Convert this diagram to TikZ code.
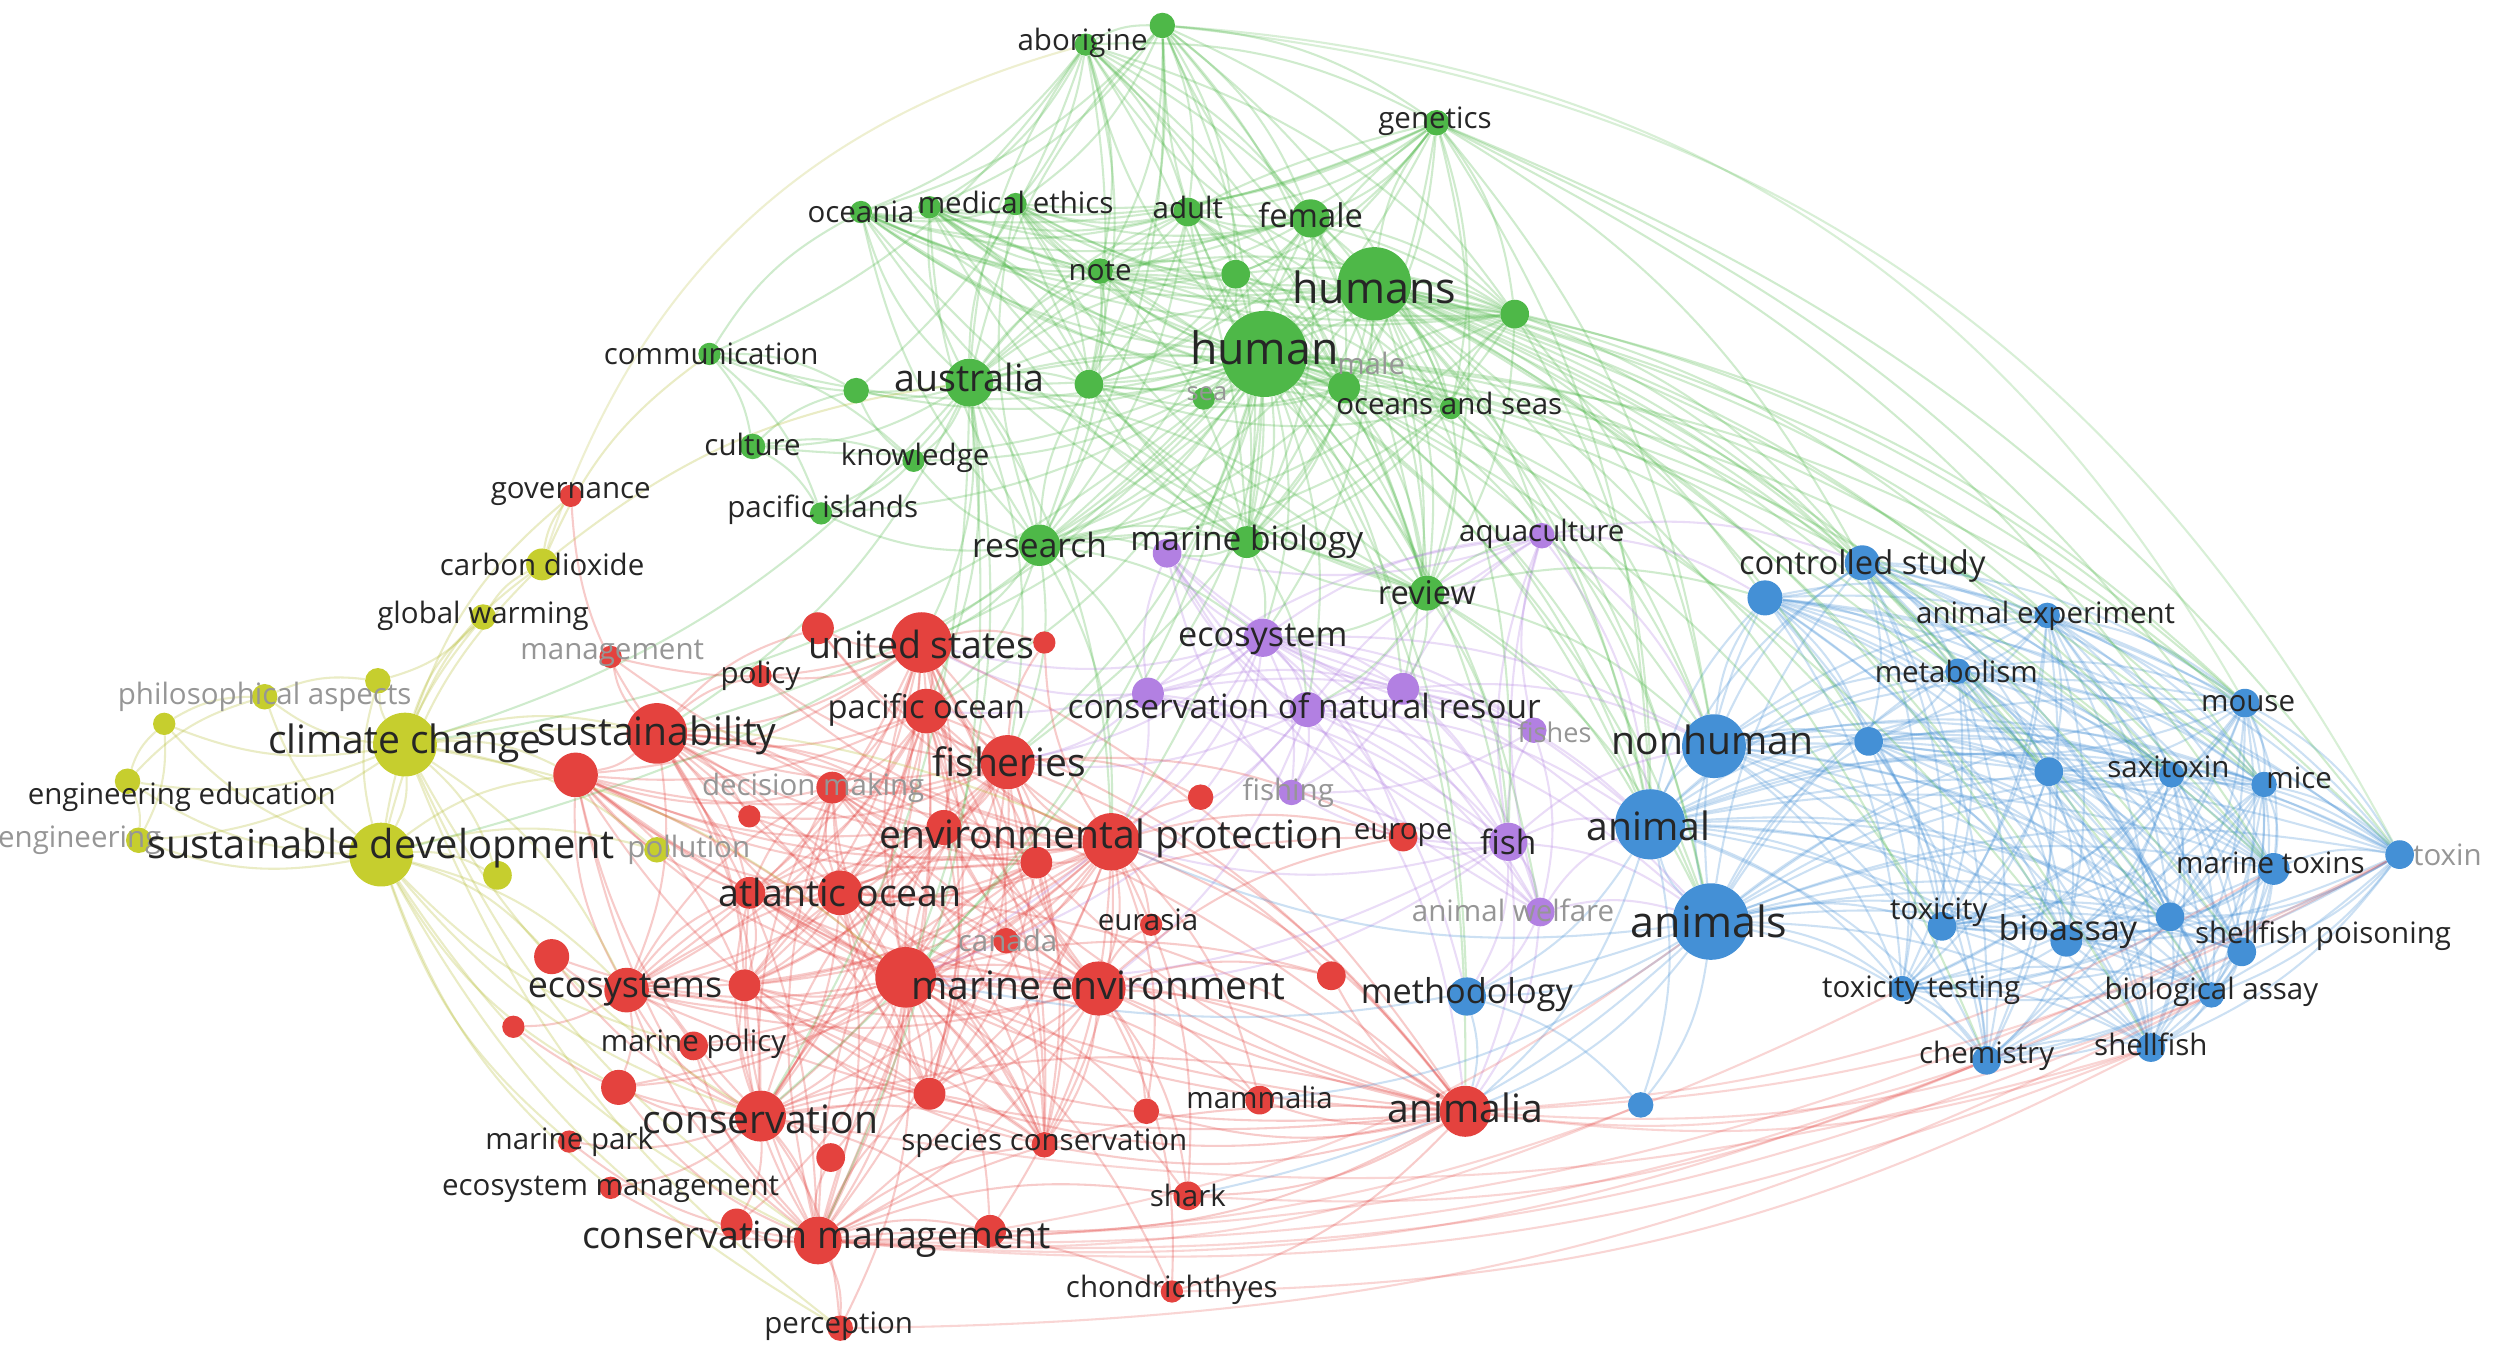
\documentclass[tikz,border=0pt]{standalone}
\usepackage{fontspec}
\setmainfont{Open Sans}
\pgfdeclarelayer{bg}
\pgfsetlayers{bg,main}
\definecolor{cred}{RGB}{228,66,62}
\definecolor{cgreen}{RGB}{78,184,72}
\definecolor{cblue}{RGB}{68,144,214}
\definecolor{cyellow}{RGB}{198,206,46}
\definecolor{cpurple}{RGB}{178,128,226}
\definecolor{txt}{RGB}{38,38,38}
\definecolor{faint}{RGB}{150,150,150}
\tikzset{
  nR/.style={circle,fill=cred,inner sep=0pt,minimum size=#1},
  nG/.style={circle,fill=cgreen,inner sep=0pt,minimum size=#1},
  nB/.style={circle,fill=cblue,inner sep=0pt,minimum size=#1},
  nY/.style={circle,fill=cyellow,inner sep=0pt,minimum size=#1},
  nP/.style={circle,fill=cpurple,inner sep=0pt,minimum size=#1},
  edgebase/.style={line width=1.3pt,opacity=.27,bend left=15},
  eR/.style={edgebase,draw=cred},
  eG/.style={edgebase,draw=cgreen},
  eB/.style={edgebase,draw=cblue},
  eY/.style={edgebase,draw=cyellow!90!black},
  eP/.style={edgebase,draw=cpurple},
  arc/.style={bend left=28,opacity=.22},
  arclow/.style={bend left=13,opacity=.22},
  lbl/.style={text=txt,inner sep=0pt,font=\fontsize{#1}{#1}\selectfont},
  lbl/.default=18.5,
  flbl/.style={text=faint,inner sep=0pt,font=\fontsize{#1}{#1}\selectfont},
  flbl/.default=18.5
}
\def\greenlist{hum,hums,aus,abo,abo2,gen,fem,adu,note,vet,male,oas,g1,res,rev,mbg,med,med2,oce,g2}
\def\bluelist{anis,anim,nonh,cst,cst2,aex,met,mou,b1,sax,b2,mice,mtox,tox,toxy,bio,b3,shp,txt,bas,chem,shf}
\def\redlist{ep,me,me2,fis,us,po,sus,ao,con,cm,ania,ecs,r6,r7,r8,r13,dm,r3,spc,r10}
\def\purplelist{eco,cnr,cnr1,cnr2,fish,fshs,fshg,awel,aqu,mbp}
\begin{document}
\begin{tikzpicture}[x=1pt,y=-1pt]
\useasboundingbox (0,0) rectangle (1568,858);
% ---------- green nodes
\node[nG=14] (abo) at (681,28) {};
\node[nG=16] (abo2) at (729,16) {};
\node[nG=16] (gen) at (901,77) {};
\node[nG=14] (oce) at (540,133) {};
\node[nG=14] (med) at (637,128) {};
\node[nG=14] (med2) at (583,130) {};
\node[nG=18] (adu) at (745,133) {};
\node[nG=24] (fem) at (822,137) {};
\node[nG=46] (hums) at (862,178) {};
\node[nG=16] (note) at (690,170) {};
\node[nG=18] (vet) at (775,172) {};
\node[nG=54] (hum) at (793,222) {};
\node[nG=20] (male) at (843,243) {};
\node[nG=14] (sea) at (755,250) {};
\node[nG=14] (oas) at (910,256) {};
\node[nG=18] (g1) at (950,197) {};
\node[nG=30] (aus) at (608,240) {};
\node[nG=18] (g2) at (683,241) {};
\node[nG=16] (g3) at (537,245) {};
\node[nG=14] (com) at (445,222) {};
\node[nG=16] (cul) at (472,280) {};
\node[nG=14] (kno) at (573,289) {};
\node[nG=14] (pis) at (515,322) {};
\node[nG=26] (res) at (652,342) {};
\node[nG=22] (rev) at (895,372) {};
\node[nG=20] (mbg) at (782,340) {};
% ---------- purple nodes
\node[nP=18] (mbp) at (732,347) {};
\node[nP=16] (aqu) at (967,336) {};
\node[nP=24] (eco) at (792,400) {};
\node[nP=22] (cnr) at (820,445) {};
\node[nP=20] (cnr1) at (720,435) {};
\node[nP=20] (cnr2) at (880,432) {};
\node[nP=16] (fshs) at (962,458) {};
\node[nP=16] (fshg) at (810,497) {};
\node[nP=24] (fish) at (946,528) {};
\node[nP=18] (awel) at (966,572) {};
% ---------- blue nodes
\node[nB=22] (cst) at (1168,353) {};
\node[nB=22] (cst2) at (1107,375) {};
\node[nB=16] (aex) at (1284,386) {};
\node[nB=16] (met) at (1228,421) {};
\node[nB=18] (mou) at (1408,441) {};
\node[nB=40] (nonh) at (1075,468) {};
\node[nB=18] (b1) at (1172,465) {};
\node[nB=16] (sax) at (1362,486) {};
\node[nB=18] (b2) at (1285,484) {};
\node[nB=16] (mice) at (1420,492) {};
\node[nB=44] (anim) at (1035,517) {};
\node[nB=20] (mtox) at (1426,545) {};
\node[nB=18] (tox) at (1505,536) {};
\node[nB=18] (toxy) at (1218,581) {};
\node[nB=48] (anis) at (1073,578) {};
\node[nB=20] (bio) at (1296,590) {};
\node[nB=18] (b3) at (1361,575) {};
\node[nB=18] (shp) at (1406,597) {};
\node[nB=16] (txt) at (1193,620) {};
\node[nB=16] (bas) at (1387,624) {};
\node[nB=24] (meth) at (920,625) {};
\node[nB=18] (chem) at (1246,665) {};
\node[nB=18] (shf) at (1349,657) {};
\node[nB=16] (b4) at (1029,693) {};
% ---------- red nodes
\node[nR=14] (gov) at (358,311) {};
\node[nR=14] (mgt) at (383,412) {};
\node[nR=14] (pol) at (477,424) {};
\node[nR=38] (us) at (578,403) {};
\node[nR=20] (r1) at (513,394) {};
\node[nR=14] (r2) at (655,403) {};
\node[nR=28] (po) at (581,446) {};
\node[nR=38] (sus) at (412,460) {};
\node[nR=28] (r3) at (361,486) {};
\node[nR=34] (fis) at (632,478) {};
\node[nR=20] (dm) at (522,494) {};
\node[nR=14] (r4) at (470,512) {};
\node[nR=16] (r5) at (753,500) {};
\node[nR=36] (ep) at (697,528) {};
\node[nR=22] (r6) at (592,519) {};
\node[nR=20] (r7) at (650,541) {};
\node[nR=18] (eur) at (880,525) {};
\node[nR=28] (ao) at (527,560) {};
\node[nR=20] (r8) at (470,560) {};
\node[nR=14] (eura) at (722,580) {};
\node[nR=16] (can) at (631,590) {};
\node[nR=38] (me) at (568,613) {};
\node[nR=34] (me2) at (689,620) {};
\node[nR=18] (r9) at (835,612) {};
\node[nR=28] (ecs) at (393,621) {};
\node[nR=20] (r10) at (467,618) {};
\node[nR=22] (r11) at (346,600) {};
\node[nR=14] (cz) at (322,644) {};
\node[nR=18] (mp) at (435,656) {};
\node[nR=22] (r12) at (388,682) {};
\node[nR=32] (con) at (477,700) {};
\node[nR=20] (r13) at (583,686) {};
\node[nR=16] (r14) at (719,697) {};
\node[nR=18] (mam) at (790,690) {};
\node[nR=32] (ania) at (919,697) {};
\node[nR=14] (mpk) at (357,716) {};
\node[nR=16] (spc) at (655,718) {};
\node[nR=18] (r15) at (521,726) {};
\node[nR=14] (em) at (383,745) {};
\node[nR=18] (sha) at (745,750) {};
\node[nR=30] (cm) at (513,778) {};
\node[nR=20] (r16) at (462,768) {};
\node[nR=20] (r17) at (621,772) {};
\node[nR=14] (cho) at (735,810) {};
\node[nR=16] (per) at (527,833) {};
% ---------- yellow nodes
\node[nY=20] (cd) at (340,354) {};
\node[nY=16] (gw) at (303,387) {};
\node[nY=16] (pa) at (166,437) {};
\node[nY=16] (y1) at (237,427) {};
\node[nY=14] (y2) at (103,454) {};
\node[nY=40] (cc) at (254,467) {};
\node[nY=16] (ee) at (80,490) {};
\node[nY=16] (eng) at (87,527) {};
\node[nY=40] (sd) at (239,536) {};
\node[nY=16] (pollu) at (412,533) {};
\node[nY=18] (y3) at (312,549) {};
% ---------- edges
\begin{pgfonlayer}{bg}
\fill[white] (0,0) rectangle (1568,858);
% dense cores (all pairs)
\foreach \a [count=\i] in \greenlist {\foreach \b [count=\j] in \greenlist {\ifnum\j>\i \draw[eG] (\a) to (\b);\fi}}
\foreach \a [count=\i] in \bluelist {\foreach \b [count=\j] in \bluelist {\ifnum\j>\i \draw[eB] (\a) to (\b);\fi}}
\foreach \a [count=\i] in \redlist {\foreach \b [count=\j] in \redlist {\ifnum\j>\i \draw[eR] (\a) to (\b);\fi}}
\foreach \a [count=\i] in \purplelist {\foreach \b [count=\j] in \purplelist {\ifnum\j>\i \draw[eP] (\a) to (\b);\fi}}
% green hubs
\foreach \t in {sea,g3,com,cul,kno,pis,eco,cnr,anim,anis,nonh,cst,fis,ep,me,us,con,ania,meth,sus,cc,sd,awel,aqu,fish,po,mbp,cnr1,cnr2,mou,mice,sax,mtox,aex,met,b1,b2,toxy,bio} \draw[eG] (hum) to (\t);
\foreach \t in {anim,anis,nonh,cst,cst2,mou,aex,met,tox,chem,eco,fis,mice,sax,bio,aqu,fish,cnr2,shp,b1,b2,b3,mtox,bas,shf} \draw[eG] (hums) to (\t);
\foreach \t in {com,cul,kno,pis,g3,us,po,fis,ep,con,cm,me,sus,cc} \draw[eG] (aus) to (\t);
\foreach \t in {com,g3} \draw[eG] (abo) to (\t);
\foreach \t in {mou,tox} \draw[eG,arc] (abo2) to (\t);
\foreach \t in {cst,nonh,anim,mtox,mice,tox} \draw[eG] (gen) to (\t);
\foreach \t in {eco,us,fis,ep,pis,kno,po,mbp,cnr1} \draw[eG] (res) to (\t);
\foreach \t in {eco,cnr,anim,anis,nonh,fish,aqu,cnr2,cst2} \draw[eG] (rev) to (\t);
\foreach \t in {anim,nonh,cst,mou} \draw[eG] (g1) to (\t);
\foreach \t in {cul,kno,pis,g3,oce} \draw[eG] (com) to (\t);
\foreach \t in {kno,pis,g3} \draw[eG] (cul) to (\t);
\foreach \t in {pis,g3} \draw[eG] (kno) to (\t);
\foreach \t in {anim,nonh,anis} \draw[eG] (oas) to (\t);
\foreach \t in {eco,mbp,cnr} \draw[eG] (mbg) to (\t);
\foreach \t in {sea,anis,anim} \draw[eG] (male) to (\t);
% purple hubs
\foreach \t in {us,fis,ep,po,me,anim,nonh,anis,meth,eur,r5} \draw[eP] (eco) to (\t);
\foreach \t in {ep,fis,me,anis,anim,ania,me2} \draw[eP] (cnr) to (\t);
\foreach \t in {anim,anis,nonh,meth,ep,me,ania,eur,me2} \draw[eP] (fish) to (\t);
\foreach \t in {anim,nonh,cst,cst2} \draw[eP] (aqu) to (\t);
\foreach \t in {us,fis,ep} \draw[eP] (cnr1) to (\t);
\foreach \t in {anim,nonh} \draw[eP] (cnr2) to (\t);
\foreach \t in {anim,anis,meth,ania} \draw[eP] (awel) to (\t);
% blue hubs
\foreach \t in {meth,b4,ania,mam,me,ep,sha} \draw[eB] (anis) to (\t);
\foreach \t in {meth,b4,ania} \draw[eB] (anim) to (\t);
\foreach \t in {b4,ania} \draw[eB] (meth) to (\t);
% red hubs
\foreach \t in {r1,r2,r4,r5,eur,eura,can,r9,r14,mam,r17,sha,pol,mgt,mp,r12} \draw[eR] (ep) to (\t);
\foreach \t in {can,r9,r11,mp,r12,r14,mam,r15,r16,r17,sha,cho,per,eur} \draw[eR] (me) to (\t);
\foreach \t in {r9,mam,r14,sha,cho,eura,eur} \draw[eR] (me2) to (\t);
\foreach \t in {r1,r2,r4,r5,eur,pol} \draw[eR] (fis) to (\t);
\foreach \t in {r1,r2,pol,mgt,can} \draw[eR] (us) to (\t);
\foreach \t in {r11,mp,r12,mpk,r15,em,r16,r17,per,cz} \draw[eR] (con) to (\t);
\foreach \t in {r16,r17,per,cho,r15,em,mpk,sha,mp,r12} \draw[eR] (cm) to (\t);
\foreach \t in {mam,sha,cho,r14,r9,r17} \draw[eR] (ania) to (\t);
\foreach \t in {gov,mgt,pol,r4,r1} \draw[eR] (sus) to (\t);
\foreach \t in {can} \draw[eR] (ao) to (\t);
\foreach \t in {r11,cz,mp,r12} \draw[eR] (ecs) to (\t);
% long arcs along the bottom (drawn east to west so that they bow outward)
\foreach \s in {shf,chem,bas,shp,tox,b4,txt} \draw[eR,arclow] (\s) to (cm);
\foreach \s in {shf,chem,bas,tox,mtox} \draw[eR,arclow] (\s) to (ania);
\draw[eR,arclow] (bas) to (per);
\draw[eR,arclow] (shf) to (cho);
\draw[eR,arclow] (chem) to (sha);
\draw[eR,arclow] (anis) to (r17);
\draw[eR,arclow] (shf) to (con);
% yellow
\foreach \t in {sd,pa,y1,y2,ee,eng,gw,cd,y3,pollu,r3,ecs,me,ep,gov,sus} \draw[eY] (cc) to (\t);
\foreach \t in {pa,y1,y2,ee,eng,gw,cd,y3,pollu,r3,ecs,r11} \draw[eY] (sd) to (\t);
\foreach \s in {mp,con,cm,r12,em,mpk,per} \draw[eY] (\s) to (sd);
\foreach \s in {con,cm,per} \draw[eY] (\s) to (cc);
\foreach \t in {y2,eng,pa} \draw[eY] (ee) to (\t);
\foreach \t in {pa,eng} \draw[eY] (y2) to (\t);
\foreach \t in {cd,y1} \draw[eY] (gw) to (\t);
\foreach \t in {gov,com,aus} \draw[eY] (cd) to (\t);
\draw[eY,arc] (cd) to (abo);
\draw[eY] (pa) to (y1);
\end{pgfonlayer}
% ---------- labels
\node[lbl] (l-abo) at (679,27) {aborigine};
\node[lbl] (l-gen) at (900,76) {genetics};
\node[lbl] (l-oce) at (540,133) {oceania};
\node[lbl] (l-med) at (637,127) {medical ethics};
\node[lbl] (l-adu) at (745,130) {adult};
\node[lbl=20.5] (l-fem) at (822,135) {female};
\node[lbl=27] (l-hums) at (862,180) {humans};
\node[lbl] (l-note) at (690,170) {note};
\node[lbl=28] (l-hum) at (793,218) {human};
\node[flbl] (l-male) at (860,228) {male};
\node[flbl=16] (l-sea) at (757,247) {sea};
\node[lbl] (l-oas) at (909,253) {oceans and seas};
\node[lbl=23.5] (l-aus) at (608,237) {australia};
\node[lbl] (l-com) at (446,222) {communication};
\node[lbl] (l-cul) at (472,279) {culture};
\node[lbl] (l-kno) at (574,287) {knowledge};
\node[lbl] (l-pis) at (516,320) {pacific islands};
\node[lbl=21] (l-res) at (652,342) {research};
\node[lbl=21] (l-mb) at (782,340) {marine biology};
\node[lbl=20.5] (l-rev) at (895,372) {review};
\node[lbl] (l-aqu) at (967,335) {aquaculture};
\node[lbl=21.5] (l-eco) at (792,401) {ecosystem};
\node[lbl=21] (l-cnr) at (818,443) {conservation of natural resour};
\node[flbl=17] (l-fshs) at (975,459) {fishes};
\node[flbl] (l-fshg) at (808,497) {fishing};
\node[lbl=21] (l-fish) at (946,528) {fish};
\node[flbl] (l-awel) at (949,571) {animal welfare};
\node[lbl=20.5] (l-cst) at (1168,355) {controlled study};
\node[lbl] (l-aex) at (1283,386) {animal experiment};
\node[lbl] (l-met) at (1227,421) {metabolism};
\node[lbl] (l-mou) at (1410,441) {mouse};
\node[lbl=24.5] (l-nonh) at (1074,464) {nonhuman};
\node[lbl] (l-sax) at (1360,481) {saxitoxin};
\node[lbl] (l-mice) at (1442,488) {mice};
\node[lbl=24.5] (l-anim) at (1034,518) {animal};
\node[lbl] (l-mtox) at (1424,541) {marine toxins};
\node[flbl] (l-tox) at (1535,536) {toxin};
\node[lbl] (l-toxy) at (1216,572) {toxicity};
\node[lbl=27] (l-anis) at (1072,578) {animals};
\node[lbl=21.5] (l-bio) at (1297,584) {bioassay};
\node[lbl] (l-shp) at (1457,587) {shellfish poisoning};
\node[lbl] (l-txt) at (1205,621) {toxicity testing};
\node[lbl] (l-bas) at (1387,622) {biological assay};
\node[lbl=21.5] (l-meth) at (920,624) {methodology};
\node[lbl] (l-chem) at (1246,662) {chemistry};
\node[lbl] (l-shf) at (1349,655) {shellfish};
\node[lbl] (l-gov) at (358,310) {governance};
\node[flbl] (l-mgt) at (384,410) {management};
\node[lbl] (l-pol) at (477,424) {policy};
\node[lbl=23.5] (l-us) at (578,404) {united states};
\node[lbl=20.5] (l-po) at (581,445) {pacific ocean};
\node[lbl=24.5] (l-sus) at (412,461) {sustainability};
\node[lbl=24.5] (l-fis) at (633,478) {fisheries};
\node[flbl] (l-dm) at (510,494) {decision making};
\node[lbl=24.5] (l-ep) at (697,526) {environmental protection};
\node[lbl] (l-eur) at (880,524) {europe};
\node[lbl=23.5] (l-ao) at (527,560) {atlantic ocean};
\node[lbl] (l-eura) at (720,577) {eurasia};
\node[flbl] (l-can) at (632,590) {canada};
\node[lbl=24.5] (l-me) at (689,618) {marine environment};
\node[lbl=22.5] (l-ecs) at (392,621) {ecosystems};
\node[lbl] (l-mp) at (435,655) {marine policy};
\node[lbl=24.5] (l-con) at (477,702) {conservation};
\node[lbl] (l-mam) at (790,688) {mammalia};
\node[lbl=24.5] (l-ania) at (919,695) {animalia};
\node[lbl] (l-mpk) at (357,716) {marine park};
\node[lbl] (l-spc) at (655,717) {species conservation};
\node[lbl] (l-em) at (383,746) {ecosystem management};
\node[lbl] (l-sha) at (745,750) {shark};
\node[lbl=23.5] (l-cm) at (512,777) {conservation management};
\node[lbl] (l-cho) at (735,809) {chondrichthyes};
\node[lbl] (l-per) at (526,832) {perception};
\node[lbl] (l-cd) at (340,354) {carbon dioxide};
\node[lbl] (l-gw) at (303,386) {global warming};
\node[flbl] (l-pa) at (166,437) {philosophical aspects};
\node[lbl=24.5] (l-cc) at (254,466) {climate change};
\node[lbl] (l-ee) at (114,500) {engineering education};
\node[flbl] (l-eng) at (50,527) {engineering};
\node[lbl=25] (l-sd) at (239,532) {sustainable development};
\node[flbl] (l-pollu) at (432,533) {pollution};
\end{tikzpicture}
\end{document}
